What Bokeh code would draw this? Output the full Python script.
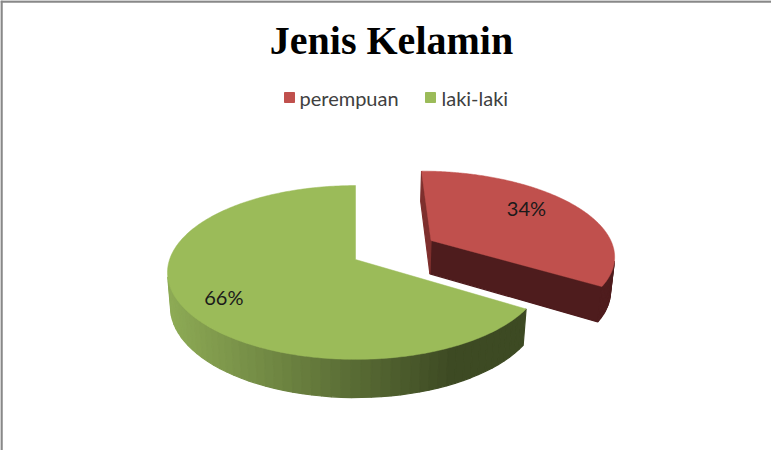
import numpy as np
from bokeh.plotting import figure
from bokeh.models import Range1d, Span
from bokeh.embed import file_html
from bokeh.resources import INLINE
from bokeh.core.properties import value

# ---------------- data ----------------
title_text = "Jenis Kelamin"
categories = ["perempuan", "laki-laki"]
values = [34, 66]
labels = ["34%", "66%"]

# ---------------- style ----------------
top_colors = ["#C0504D", "#9BBB59"]
explode = [0.48, 0.0]
side_dark = ["#4F1D1E", "#3D4A23"]
side_light = ["#521F20", "#8DAA55"]
radial_colors = ["#4E1C1D", "#4E5E2C"]
radial_edge90 = ["#7E2F2D", "#8DAA55"]
label_shift = [(-9, -6), (-8, 6)]

W, H = 771, 450
p = figure(width=W, height=H, output_backend="svg", toolbar_location=None,
           x_range=Range1d(0, W), y_range=Range1d(H, 0), min_border=0,
           outline_line_color=None, background_fill_color="white",
           border_fill_color="white")
p.axis.visible = False
p.grid.visible = False

# chart border (left and top visible)
p.add_layout(Span(location=1, dimension="height", line_color="#888888", line_width=2.5))
p.add_layout(Span(location=1, dimension="width", line_color="#888888", line_width=2.5))

# ---------------- 3D projection ----------------
CX, CY = 355.0, 259.0
FOC = 1108.0
DIST = 5.96
S = 0.457
C = np.sqrt(1 - S * S)
THICK = 0.21
CAM = np.array([0.0, DIST * S, -DIST * C])  # X, Y, Z


def proj(X, Y, Z):
    d = DIST + Z * C - Y * S
    yc = Z * S + Y * C
    return CX + FOC * X / d, CY - FOC * yc / d


def hexlerp(a, b, t):
    a = [int(a[i:i + 2], 16) for i in (1, 3, 5)]
    b = [int(b[i:i + 2], 16) for i in (1, 3, 5)]
    return "#%02x%02x%02x" % tuple(int(round(a[k] + (b[k] - a[k]) * t)) for k in range(3))


total = float(sum(values))
start = 90.0
slices = []
for i, v in enumerate(values):
    a0 = start
    a1 = start - v / total * 360.0
    start = a1
    mid = np.radians((a0 + a1) / 2)
    ox, oz = explode[i] * np.cos(mid), explode[i] * np.sin(mid)
    slices.append((a0, a1, ox, oz, mid))

# draw farther slice first (red is farther back)
order = sorted(range(len(values)), key=lambda k: -slices[k][3])

for i in order:
    a0, a1, ox, oz, mid = slices[i]
    angs = np.radians(np.linspace(a1, a0, 240))
    xs_s, ys_s, cols = [], [], []
    # curved outer side strips (coarser, overlapping)
    sangs = np.radians(np.linspace(a1, a0, 90))
    for k in range(len(sangs) - 1):
        am = 0.5 * (sangs[k] + sangs[k + 1])
        P = np.array([ox + np.cos(am), 0.0, oz + np.sin(am)])
        n = np.array([np.cos(am), 0.0, np.sin(am)])
        if np.dot(CAM - P, n) <= 0:
            continue
        q = []
        for a, yy in ((sangs[k], 0), (sangs[k + 1], 0), (sangs[k + 1], -THICK), (sangs[k], -THICK)):
            q.append(proj(ox + np.cos(a), yy, oz + np.sin(a)))
        qx = [t[0] for t in q]
        qy = [t[1] for t in q]
        xm = np.mean(qx)
        t = np.clip((xm - 172) / (452 - 172), 0, 1)
        cols.append(hexlerp(side_light[i], side_dark[i], t))
        xs_s.append(qx)
        ys_s.append(qy)
    # radial faces
    for edge_a, sign, col in ((a1, -1, radial_colors[i]), (a0, 1, radial_edge90[i])):
        ea = np.radians(edge_a)
        n = np.array([np.cos(ea + sign * np.pi / 2), 0.0, np.sin(ea + sign * np.pi / 2)])
        P = np.array([ox + 0.5 * np.cos(ea), 0.0, oz + 0.5 * np.sin(ea)])
        if np.dot(CAM - P, n) <= 1e-6:
            continue
        q = [proj(ox, 0, oz), proj(ox + np.cos(ea), 0, oz + np.sin(ea)),
             proj(ox + np.cos(ea), -THICK, oz + np.sin(ea)), proj(ox, -THICK, oz)]
        xs_s.append([t[0] for t in q])
        ys_s.append([t[1] for t in q])
        cols.append(col)
    if xs_s:
        p.patches(xs_s, ys_s, fill_color=cols, line_color=cols, line_width=1.2)
    # top face
    tx, ty = [], []
    cx0, cy0 = proj(ox, 0, oz)
    tx.append(cx0)
    ty.append(cy0)
    for a in angs:
        x_, y_ = proj(ox + np.cos(a), 0, oz + np.sin(a))
        tx.append(x_)
        ty.append(y_)
    p.patch(tx, ty, fill_color=top_colors[i], line_color=top_colors[i], line_width=0.5)

# data labels
lx, ly = [], []
for i in range(len(values)):
    a0, a1, ox, oz, mid = slices[i]
    r = 0.72
    x_, y_ = proj(ox + r * np.cos(mid), 0, oz + r * np.sin(mid))
    lx.append(x_ + label_shift[i][0])
    ly.append(y_ + label_shift[i][1])
p.text(lx, ly, text=labels, text_font=value("Lato"), text_font_size="20px",
       text_color="#1a1a1a", text_align="center", text_baseline="middle")

# title
p.text([391], [40], text=[title_text], text_font=value("Liberation Serif"),
       text_font_size="40px", text_font_style="bold", text_color="black",
       text_align="center", text_baseline="middle")

# legend (manual)
leg_sq_x = [289, 430]
leg_tx_x = [299, 441]
leg_y = 97
p.scatter(leg_sq_x, [leg_y] * 2, marker="square", size=10, fill_color=top_colors,
          line_color=top_colors)
p.text(leg_tx_x, [leg_y] * 2, text=categories, text_font=value("Lato"),
       text_font_size="20px", text_color="#404040", text_align="left",
       text_baseline="middle")

open("out.html", "w").write(file_html(p, INLINE))
